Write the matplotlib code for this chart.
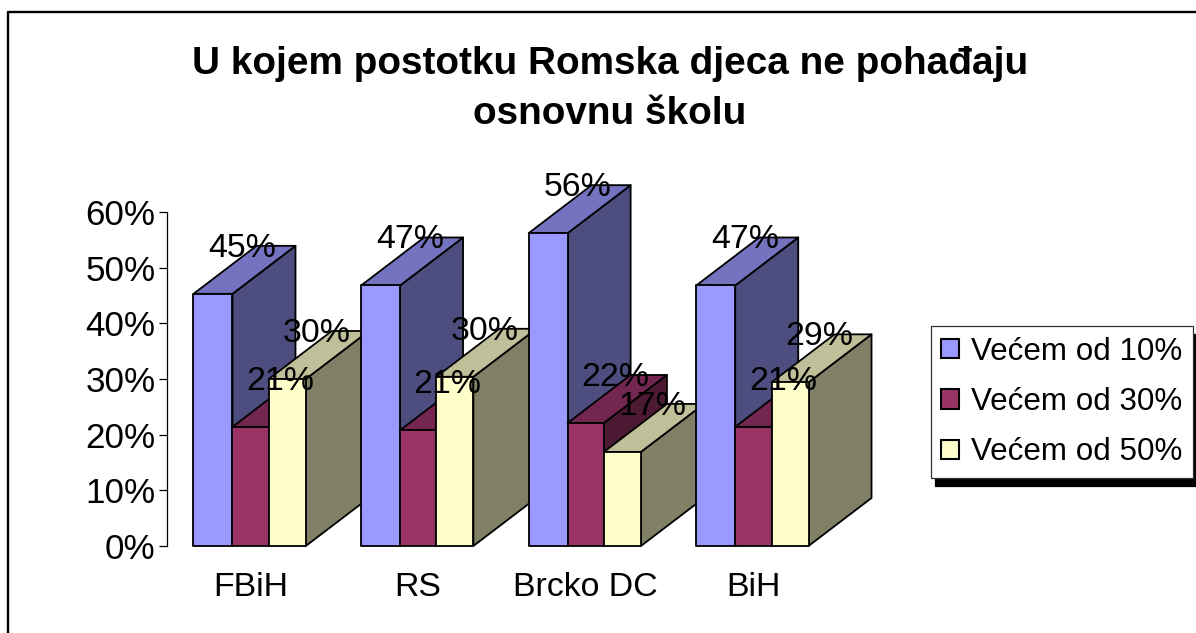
import matplotlib
matplotlib.use("Agg")
import matplotlib.pyplot as plt
from matplotlib.patches import Patch, Polygon, Rectangle
from matplotlib.transforms import ScaledTranslation

plt.rcParams['font.family'] = ['Liberation Sans', 'DejaVu Sans']

categories = ["FBiH", "RS", "Brcko DC", "BiH"]
series_names = ["Većem od 10%", "Većem od 30%", "Većem od 50%"]
over_10 = [45.3, 46.8, 56.2, 46.8]
over_30 = [21.4, 20.8, 22.1, 21.4]
over_50 = [30.0, 30.4, 16.9, 29.4]
y_ticks = [0, 10, 20, 30, 40, 50, 60]

front_colors = ["#9999FF", "#993366", "#FFFFCC"]
top_colors = ["#7373BF", "#732650", "#BFBF99"]
side_colors = ["#4D4D80", "#4D1A33", "#808066"]

W, H = 1196, 633
DPI = 100
fig = plt.figure(figsize=(W / DPI, H / DPI), dpi=DPI, facecolor="white")

# plot area
x0, x1 = 166.7, 837.0
ytop, ybot = 212.0, 546.0
ax = fig.add_axes([x0 / W, 1 - ybot / H, (x1 - x0) / W, (ybot - ytop) / H])
ax.set_xlim(-0.5, 3.5)
ax.set_ylim(0, 60)
ax.patch.set_visible(False)
for s in ["top", "right", "bottom"]:
    ax.spines[s].set_visible(False)
ax.spines["left"].set_linewidth(0.9)
ax.set_yticks(y_ticks)
ax.set_yticklabels([f"{v}%" for v in y_ticks], fontsize=25.2)
ax.tick_params(axis="y", length=6, width=0.9, pad=2)
ax.set_xticks(range(len(categories)))
ax.set_xticklabels(categories, fontsize=24.4)
ax.tick_params(axis="x", length=0, pad=18.4)

px_x = (x1 - x0) / 4
px_y = (ybot - ytop) / 60
depth_x = 63 / px_x
depth_y = 48 / px_y
bar_w = [39 / px_x, 36.3 / px_x, 37 / px_x]
group_start = -57 / px_x

series = [over_10, over_30, over_50]
edge = dict(edgecolor="black", linewidth=1.3, joinstyle="round", clip_on=False)
label_tf = ax.transData + ScaledTranslation(-2.0 / DPI, 1.0 / DPI, fig.dpi_scale_trans)

for i in range(len(categories)):
    left = i + group_start
    for s, vals in enumerate(series):
        v = vals[i]
        r = left + bar_w[s]
        ax.add_patch(Polygon([(r, 0), (r + depth_x, depth_y), (r + depth_x, v + depth_y), (r, v)],
                             facecolor=side_colors[s], **edge))
        ax.add_patch(Polygon([(left, v), (r, v), (r + depth_x, v + depth_y), (left + depth_x, v + depth_y)],
                             facecolor=top_colors[s], **edge))
        ax.add_patch(Rectangle((left, 0), bar_w[s], v, facecolor=front_colors[s], **edge))
        left = r

for i in range(len(categories)):
    left = i + group_start
    for s, vals in enumerate(series):
        v = vals[i]
        xc = left + (bar_w[s] + depth_x) / 2
        ax.text(xc, v + depth_y, f"{round(v)}%", fontsize=24.4, ha="center", va="center_baseline",
                transform=label_tf, clip_on=False, zorder=10)
        left += bar_w[s]

fig.text(610 / W, 1 - 89.5 / H, "U kojem postotku Romska djeca ne pohađaju\nosnovnu školu",
         fontsize=27.9, fontweight="bold", ha="center", va="center", linespacing=1.5)

# chart border
fig.add_artist(plt.Line2D([8 / W, 8 / W, 1196 / W], [0, 1 - 12 / H, 1 - 12 / H],
                          transform=fig.transFigure, color="black", linewidth=1.7))

handles = [Patch(facecolor=c, edgecolor="black", linewidth=1.5) for c in front_colors]
leg = ax.legend(handles, series_names, loc="upper left",
                bbox_to_anchor=(930.7 / W, 1 - 326.2 / H), bbox_transform=fig.transFigure,
                borderaxespad=0, fontsize=22.6, frameon=True, fancybox=False, framealpha=1,
                edgecolor="#333333", handlelength=0.57, handleheight=0.57, handletextpad=0.38,
                borderpad=0.33, labelspacing=0.65,
                shadow={"color": "black", "alpha": 1, "ox": 3, "oy": -5.8})
leg.get_frame().set_linewidth(0.9)

fig.savefig("out.png", dpi=DPI)
